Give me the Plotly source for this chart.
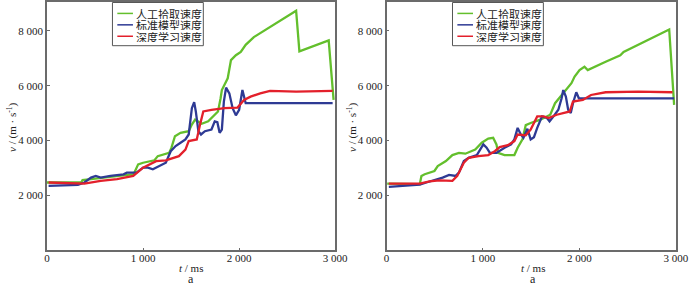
import plotly.graph_objects as go

# ---- data: panel a (left) ----
t_man_L = [0, 356, 370, 458, 898, 915, 949, 1000, 1119, 1153, 1271, 1295, 1332, 1390, 1475, 1508, 1542, 1610, 1678, 1746, 1780, 1807, 1820, 1881, 1915, 1966, 2017, 2068, 2153, 2593, 2627, 2932, 2983]
v_man_L = [2470, 2470, 2560, 2590, 2770, 2870, 3130, 3190, 3280, 3430, 3550, 3730, 4160, 4280, 4340, 4580, 4760, 4610, 4700, 4940, 5060, 5540, 5840, 6270, 6930, 7110, 7230, 7490, 7770, 8730, 7250, 7650, 5480]

t_std_L = [17, 322, 390, 458, 508, 559, 661, 797, 831, 932, 1000, 1051, 1102, 1169, 1237, 1288, 1339, 1390, 1441, 1475, 1508, 1532, 1549, 1576, 1603, 1644, 1712, 1746, 1773, 1797, 1820, 1841, 1864, 1898, 1932, 1966, 2000, 2034, 2058, 2068, 2973]
v_std_L = [2350, 2385, 2470, 2650, 2710, 2650, 2710, 2770, 2830, 2830, 3010, 3010, 2950, 3070, 3190, 3610, 3800, 3920, 4040, 4220, 5180, 5400, 5060, 4340, 4220, 4340, 4400, 4700, 4670, 4280, 4400, 5420, 5930, 5720, 5180, 4920, 5120, 5840, 5480, 5360, 5360]

t_dl_L = [17, 390, 559, 729, 898, 1000, 1136, 1237, 1373, 1441, 1475, 1559, 1593, 1627, 1712, 1847, 1983, 2051, 2119, 2220, 2322, 2593, 2973]
v_dl_L = [2470, 2430, 2530, 2590, 2710, 3010, 3250, 3280, 3430, 3670, 3980, 4040, 4580, 5060, 5120, 5180, 5200, 5480, 5600, 5720, 5810, 5780, 5810]

# ---- data: panel a (right) ----
t_man_R = [7, 345, 362, 396, 497, 531, 616, 683, 751, 818, 920, 988, 1055, 1106, 1140, 1157, 1224, 1326, 1360, 1410, 1444, 1495, 1596, 1698, 1748, 1799, 1867, 1918, 1951, 2002, 2053, 2087, 2273, 2425, 2459, 2932, 2983]
v_man_R = [2430, 2410, 2710, 2770, 2890, 3070, 3250, 3470, 3550, 3520, 3670, 3920, 4070, 4100, 3860, 3550, 3470, 3470, 3740, 4040, 4560, 4640, 4760, 4940, 5360, 5570, 5840, 6090, 6330, 6570, 6690, 6570, 6870, 7110, 7230, 8050, 5300]

t_std_R = [24, 244, 345, 413, 497, 582, 649, 717, 751, 802, 852, 937, 971, 1004, 1038, 1072, 1140, 1224, 1292, 1326, 1360, 1393, 1420, 1461, 1495, 1529, 1563, 1613, 1664, 1691, 1732, 1782, 1816, 1833, 1860, 1884, 1911, 1934, 1968, 1995, 2983]
v_std_R = [2310, 2350, 2390, 2470, 2550, 2650, 2750, 2710, 2830, 3250, 3370, 3470, 3670, 3860, 3740, 3550, 3550, 3740, 3860, 4040, 4460, 4220, 4100, 4430, 4040, 4120, 4460, 4880, 4820, 4700, 4880, 5120, 5540, 5840, 5600, 5120, 5000, 5360, 5760, 5540, 5540]

t_dl_R = [24, 345, 446, 548, 683, 734, 802, 852, 954, 1055, 1123, 1174, 1258, 1326, 1360, 1444, 1495, 1563, 1630, 1681, 1765, 1850, 1901, 1934, 2036, 2121, 2273, 2611, 2966]
v_dl_R = [2430, 2430, 2510, 2550, 2530, 2710, 3190, 3370, 3430, 3470, 3610, 3760, 3830, 3980, 4220, 4190, 4400, 4880, 4880, 4820, 4940, 5000, 5060, 5420, 5480, 5660, 5760, 5780, 5760]

names = ["人工拾取速度", "标准模型速度", "深度学习速度"]
colors = ["#63bf2c", "#2e3a94", "#e3202b"]

x_ticks = [0, 1000, 2000, 3000]
x_tick_text = ["0", "1 000", "2 000", "3 000"]
y_ticks = [2000, 4000, 6000, 8000]
y_tick_text = ["2 000", "4 000", "6 000", "8 000"]

W, H = 700, 286
fig = go.Figure()

panels = [
    ("x", "y", [(t_man_L, v_man_L), (t_std_L, v_std_L), (t_dl_L, v_dl_L)]),
    ("x2", "y2", [(t_man_R, v_man_R), (t_std_R, v_std_R), (t_dl_R, v_dl_R)]),
]
for xa, ya, series in panels:
    for (tx, vy), nm, col in zip(series, names, colors):
        fig.add_trace(go.Scatter(x=tx, y=vy, mode="lines", name=nm,
                                 line=dict(color=col, width=2.3),
                                 xaxis=xa, yaxis=ya, showlegend=False))

serif = "Liberation Serif"
axis_common = dict(showline=True, linecolor="#6b6b6b", linewidth=1.5, mirror=True,
                   showgrid=False, zeroline=False, ticks="inside", ticklen=3,
                   tickcolor="#6b6b6b", tickfont=dict(family=serif, size=11, color="#222"))

ydom = [36 / H, 1.0]
fig.update_layout(
    width=W, height=H,
    margin=dict(l=0, r=0, t=0, b=0),
    paper_bgcolor="white", plot_bgcolor="white",
    xaxis=dict(domain=[45 / W, 340 / W], range=[0, 3000], tickvals=x_ticks,
               ticktext=x_tick_text, anchor="y", ticklabelstandoff=-3, **axis_common),
    yaxis=dict(domain=ydom, range=[0, 9050], tickvals=y_ticks, ticktext=y_tick_text,
               anchor="x", **axis_common),
    xaxis2=dict(domain=[392.5 / W, 688.5 / W], range=[0, 3000], tickvals=x_ticks,
                ticktext=x_tick_text, anchor="y2", ticklabelstandoff=-3, **axis_common),
    yaxis2=dict(domain=ydom, range=[0, 9050], tickvals=y_ticks, ticktext=y_tick_text,
                anchor="x2", **axis_common),
    showlegend=False,
)

# hand-drawn compact legends (box, sample lines, labels)
cjk = dict(family="Noto Sans CJK SC", size=11, color="#222")
for x0 in [112, 460]:
    fig.add_shape(type="rect", xref="paper", yref="paper",
                  x0=x0 / W, x1=(x0 + 93) / W, y0=1 - 44 / H, y1=1 - 0.5 / H,
                  line=dict(color="#555", width=1), fillcolor="white", layer="above")
    for i, (nm, col) in enumerate(zip(names, colors)):
        yc = 11.5 + 11.5 * i
        fig.add_shape(type="line", xref="paper", yref="paper",
                      x0=(x0 + 5) / W, x1=(x0 + 21) / W, y0=1 - yc / H, y1=1 - yc / H,
                      line=dict(color=col, width=1.5), layer="above")
        fig.add_annotation(text=nm, x=(x0 + 23) / W, y=1 - yc / H, xref="paper", yref="paper",
                           showarrow=False, font=cjk, xanchor="left", yanchor="middle",
                           height=11, borderpad=0)

ann_font = dict(family=serif, size=11, color="#222")
for xc in [9, 357]:
    fig.add_annotation(text="<i>v</i> / (m · s<sup>-1</sup>)", x=xc / W, y=1 - 126 / H,
                       xref="paper", yref="paper", textangle=-90, showarrow=False,
                       font=ann_font, xanchor="center", yanchor="middle")
for xc in [192, 542]:
    fig.add_annotation(text="<i>t</i> / ms", x=xc / W, y=1 - 268 / H, xref="paper",
                       yref="paper", showarrow=False, font=ann_font,
                       xanchor="center", yanchor="middle")
    fig.add_annotation(text="a", x=xc / W, y=1 - 279 / H, xref="paper",
                       yref="paper", showarrow=False,
                       font=dict(family=serif, size=12, color="#222"),
                       xanchor="center", yanchor="middle")

fig.write_html("out.html", config={"displayModeBar": False},
               post_script="document.body.style.margin='0';document.body.style.padding='0';")
